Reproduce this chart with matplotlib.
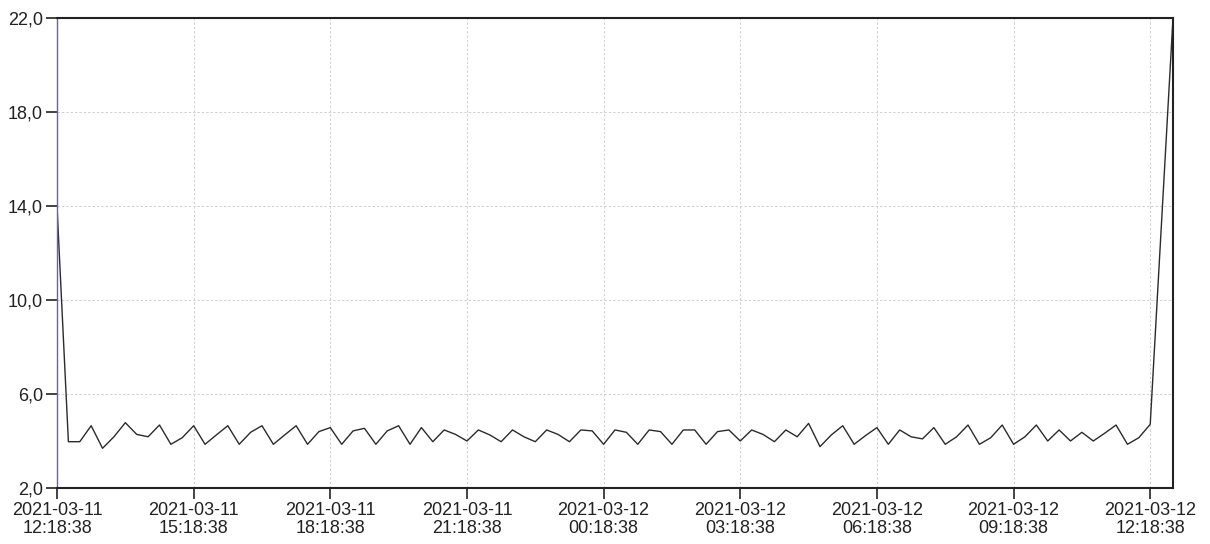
import matplotlib
matplotlib.use('Agg')
from matplotlib import pyplot as plt
import matplotlib.dates as mdates
from matplotlib.ticker import FuncFormatter
import pandas as pd

# readings every 15 minutes
start = '2021-03-11 12:18:38'
values = [14.0, 3.97, 3.97, 4.65, 3.69, 4.18, 4.78, 4.28, 4.18, 4.68,
          3.86, 4.14, 4.65, 3.86, 4.26, 4.65, 3.86, 4.37, 4.65, 3.86,
          4.26, 4.65, 3.86, 4.40, 4.57, 3.86, 4.43, 4.54, 3.86, 4.43,
          4.65, 3.86, 4.57, 3.97, 4.47, 4.28, 4.00, 4.47, 4.26, 3.97,
          4.47, 4.18, 3.97, 4.47, 4.28, 3.97, 4.47, 4.43, 3.86, 4.47,
          4.37, 3.86, 4.47, 4.40, 3.86, 4.47, 4.47, 3.86, 4.40, 4.47,
          4.00, 4.47, 4.28, 3.97, 4.47, 4.18, 4.75, 3.76, 4.26, 4.65,
          3.86, 4.23, 4.57, 3.86, 4.47, 4.18, 4.09, 4.57, 3.86, 4.18,
          4.68, 3.86, 4.14, 4.68, 3.86, 4.18, 4.68, 4.00, 4.47, 4.00,
          4.37, 4.00, 4.33, 4.68, 3.86, 4.14, 4.71]
last_time = '2021-03-12 12:48:38'
last_value = 22.0

times = pd.date_range(start, periods=len(values), freq='15min')
times = times.append(pd.DatetimeIndex([last_time]))
values = values + [last_value]

xticks = pd.date_range(start, periods=9, freq='3h')
yticks = [2, 6, 10, 14, 18, 22]

plt.rcParams['font.family'] = ['Liberation Sans Narrow', 'Liberation Sans', 'DejaVu Sans']

fig = plt.figure(figsize=(12.1, 5.44), dpi=100)
ax = fig.add_axes([57 / 1210, 1 - 488 / 544, (1173 - 57) / 1210, (488 - 18) / 544])

ax.plot(times, values, color='#2b2b2b', linewidth=1.0)

ax.set_xlim(times[0], times[-1])
ax.set_ylim(2, 22)
ax.set_yticks(yticks)
ax.yaxis.set_major_formatter(FuncFormatter(lambda v, p: '{0:.1f}'.format(v).replace('.', ',')))
ax.set_xticks(xticks)
ax.xaxis.set_major_formatter(mdates.DateFormatter('%Y-%m-%d\n%H:%M:%S'))

ax.grid(True, color='#d0d0d0', linestyle=(0, (2.5, 2)), linewidth=0.7)
ax.tick_params(axis='both', direction='out', length=8, width=1.2, color='#222222',
               labelsize=13, labelcolor='#222222', pad=2)
for lbl in ax.get_xticklabels():
    lbl.set_linespacing(1.05)

for side in ['top', 'bottom', 'right']:
    ax.spines[side].set_color('#222222')
    ax.spines[side].set_linewidth(1.5)
ax.spines['left'].set_color('#6a5acd')
ax.spines['left'].set_linewidth(1.0)

fig.savefig('out.png', dpi=100)
